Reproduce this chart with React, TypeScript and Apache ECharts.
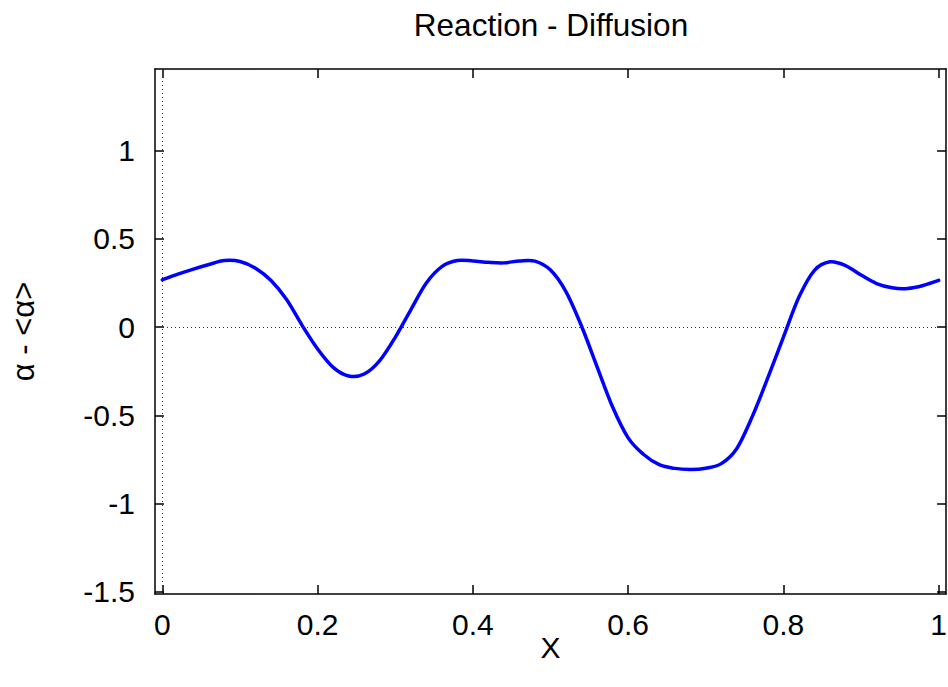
import React, { useEffect, useRef } from "react";
import * as echarts from "echarts";

const xValues = [
  0, 0.02, 0.04, 0.06, 0.08, 0.1, 0.12, 0.14, 0.16, 0.18, 0.2, 0.22, 0.24, 0.26, 0.28, 0.3, 0.32,
  0.34, 0.36, 0.38, 0.4, 0.42, 0.44, 0.46, 0.48, 0.5, 0.52, 0.54, 0.56, 0.58, 0.6, 0.62, 0.64,
  0.66, 0.68, 0.7, 0.72, 0.74, 0.76, 0.78, 0.8, 0.82, 0.84, 0.86, 0.88, 0.9, 0.92, 0.94, 0.96,
  0.98, 1.0,
];
const yValues = [
  0.268, 0.3, 0.329, 0.355, 0.377, 0.372, 0.334, 0.264, 0.156, 0.01, -0.124, -0.228, -0.277,
  -0.266, -0.19, -0.058, 0.098, 0.25, 0.343, 0.377, 0.375, 0.367, 0.364, 0.375, 0.374, 0.323,
  0.2, 0.005, -0.225, -0.453, -0.628, -0.722, -0.78, -0.801, -0.807, -0.8, -0.774, -0.688,
  -0.506, -0.287, -0.057, 0.17, 0.322, 0.37, 0.349, 0.295, 0.247, 0.223, 0.219, 0.236, 0.265,
];
const xTicks = [0, 0.2, 0.4, 0.6, 0.8, 1];
const yTicks = [-1.5, -1, -0.5, 0, 0.5, 1];

const FONT = "'Liberation Sans', Arial, sans-serif";

export default function App() {
  const ref = useRef<HTMLDivElement>(null);
  useEffect(() => {
    if (!ref.current) return;
    const chart = echarts.init(ref.current, null, { renderer: "svg" });
    const fmt = (v: number) => String(Number(Number(v).toFixed(2)));
    const axisLine = { show: true, onZero: false, lineStyle: { color: "#000", width: 1.5 } };
    const tick = (vals: number[]) => ({
      show: true,
      inside: true,
      length: 9,
      customValues: vals,
      lineStyle: { color: "#000", width: 1.5 },
    });
    const label = (vals: number[], margin: number) => ({
      show: true,
      customValues: vals,
      formatter: fmt,
      fontSize: 30,
      fontFamily: FONT,
      color: "#000",
      margin,
    });
    const points = xValues.map((x, i) => [x, yValues[i]]);
    chart.setOption({
      animation: false,
      backgroundColor: "#fff",
      title: {
        text: "Reaction - Diffusion",
        left: 546,
        textAlign: "center",
        top: 4,
        textStyle: { fontSize: 31.5, fontWeight: "normal", fontFamily: FONT, color: "#000" },
      },
      grid: { left: 153, top: 69, width: 796, height: 525 },
      xAxis: [
        {
          type: "value",
          min: -0.0095,
          max: 1.0095,
          position: "bottom",
          axisLine,
          axisTick: tick(xTicks),
          axisLabel: label(xTicks, 15),
          splitLine: { show: false },
          name: "X",
          nameLocation: "middle",
          nameGap: 38,
          nameMoveOverlap: false,
          nameTextStyle: { fontSize: 30, fontFamily: FONT, color: "#000" },
        },
        {
          type: "value",
          min: -0.0095,
          max: 1.0095,
          position: "top",
          axisLine,
          axisTick: tick(xTicks),
          axisLabel: { show: false },
          splitLine: { show: false },
        },
      ],
      yAxis: [
        {
          type: "value",
          min: -1.513,
          max: 1.463,
          position: "left",
          axisLine,
          axisTick: tick(yTicks),
          axisLabel: label(yTicks, 20),
          splitLine: { show: false },
          name: "α - <α>",
          nameLocation: "middle",
          nameGap: 116,
          nameRotate: 90,
          nameMoveOverlap: false,
          nameTextStyle: { fontSize: 31, fontFamily: FONT, color: "#000" },
        },
        {
          type: "value",
          min: -1.513,
          max: 1.463,
          position: "right",
          axisLine,
          axisTick: tick(yTicks),
          axisLabel: { show: false },
          splitLine: { show: false },
        },
      ],
      series: [
        {
          type: "line",
          data: [],
          z: 1,
          silent: true,
          markLine: {
            silent: true,
            symbol: ["none", "none"],
            label: { show: false },
            lineStyle: { type: [1, 3], color: "#333", width: 1 },
            data: [{ xAxis: 0 }, { yAxis: 0 }],
          },
        },
        {
          type: "custom",
          z: 3,
          silent: true,
          data: points,
          encode: { x: 0, y: 1 },
          renderItem: (params: any, api: any) => {
            if (params.dataIndex !== 0) return null;
            const P = points.map((p) => api.coord(p) as number[]);
            const n = P.length;
            const get = (i: number) => {
              if (i < 0) return [2 * P[0][0] - P[1][0], 2 * P[0][1] - P[1][1]];
              if (i >= n) return [2 * P[n - 1][0] - P[n - 2][0], 2 * P[n - 1][1] - P[n - 2][1]];
              return P[i];
            };
            let d = `M${P[0][0]},${P[0][1]}`;
            for (let i = 0; i < n - 1; i++) {
              const p0 = get(i - 1);
              const p1 = get(i);
              const p2 = get(i + 1);
              const p3 = get(i + 2);
              const c1x = p1[0] + (p2[0] - p0[0]) / 6;
              const c1y = p1[1] + (p2[1] - p0[1]) / 6;
              const c2x = p2[0] - (p3[0] - p1[0]) / 6;
              const c2y = p2[1] - (p3[1] - p1[1]) / 6;
              d += ` C${c1x},${c1y} ${c2x},${c2y} ${p2[0]},${p2[1]}`;
            }
            return {
              type: "path",
              shape: { pathData: d },
              style: {
                fill: "none",
                stroke: "#0000ff",
                lineWidth: 3.5,
                lineJoin: "round",
                lineCap: "round",
              },
            };
          },
        },
      ],
    });
    return () => chart.dispose();
  }, []);
  return (
    <div
      ref={ref}
      style={{ position: "fixed", left: 0, top: 0, width: 950, height: 687, background: "#fff" }}
    />
  );
}
